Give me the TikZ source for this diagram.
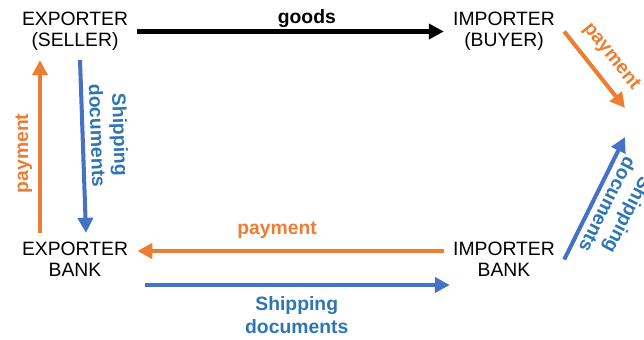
\documentclass[tikz,border=0pt]{standalone}
\usepackage{fontspec}
\setmainfont{Liberation Sans}
\usetikzlibrary{arrows.meta}

\definecolor{payOrange}{HTML}{ED7D31}
\definecolor{docBlue}{HTML}{4472C4}
\definecolor{docText}{HTML}{2E75B6}

\begin{document}
\begin{tikzpicture}[x = 0.02cm, y = 0.02cm, font = \fontsize{11}{12}\selectfont]
	\tikzstyle{partyStyle} = [align = center, inner sep = 0.18cm]
	\tikzstyle{flowStyle} = [line width = 2.3pt, -{Triangle[length = 0.3cm, width = 0.3cm]}]
	\tikzstyle{goodsStyle} = [flowStyle, draw = black]
	\tikzstyle{payStyle} = [flowStyle, draw = payOrange]
	\tikzstyle{docStyle} = [flowStyle, draw = docBlue]
	\tikzstyle{goodsLabel} = [font = \fontsize{11}{12}\selectfont\bfseries, inner sep = 1pt]
	\tikzstyle{payLabel} = [font = \fontsize{11}{12}\selectfont\bfseries, text = payOrange]
	\tikzstyle{docLabel} = [font = \fontsize{11}{13}\selectfont\bfseries, text = docText, align = center]
	\useasboundingbox (0, 0) rectangle (644, 339);
	\node[partyStyle] (seller) at (75, 307.5) {EXPORTER\\(SELLER)};
	\node[partyStyle] (buyer) at (504, 307.5) {IMPORTER\\(BUYER)};
	\node[partyStyle] (ebank) at (75, 79.5) {EXPORTER\\BANK};
	\node[partyStyle] (ibank) at (504, 79.5) {IMPORTER\\BANK};
	\coordinate (payin) at (625, 231);
	\coordinate (docsin) at (625, 202);
	\draw[goodsStyle] (seller) -- (buyer) node[pos = 0.553, above, goodsLabel] {goods};
	\draw[payStyle] (buyer.east) -- (payin) node[midway, sloped, above = 0.1cm, payLabel] {payment};
	\draw[docStyle] (ibank.east) -- (docsin) node[midway, rotate = -117, anchor = south, docLabel] {Shipping\\documents};
	\draw[payStyle] ([yshift = 0.17cm]ibank.west) -- ([yshift = 0.17cm]ebank.east) node[pos = 0.544, above = 0.1cm, payLabel] {payment};
	\draw[docStyle, shorten < = 0.15cm, shorten > = -0.12cm] ([yshift = -0.51cm]ebank.east) -- ([yshift = -0.51cm]ibank.west) node[pos = 0.52, below = 0.07cm, docLabel] {Shipping\\documents};
	\draw[payStyle] ([xshift = -0.7cm]ebank.north) -- ([xshift = -0.7cm]seller.south) node[pos = 0.46, sloped, above, payLabel] {payment};
	\draw[docStyle] ([xshift = 0.1cm]seller.south) -- ([xshift = 0.22cm]ebank.north) node[pos = 0.44, sloped, above, docLabel] {Shipping\\documents};
\end{tikzpicture}
\end{document}
